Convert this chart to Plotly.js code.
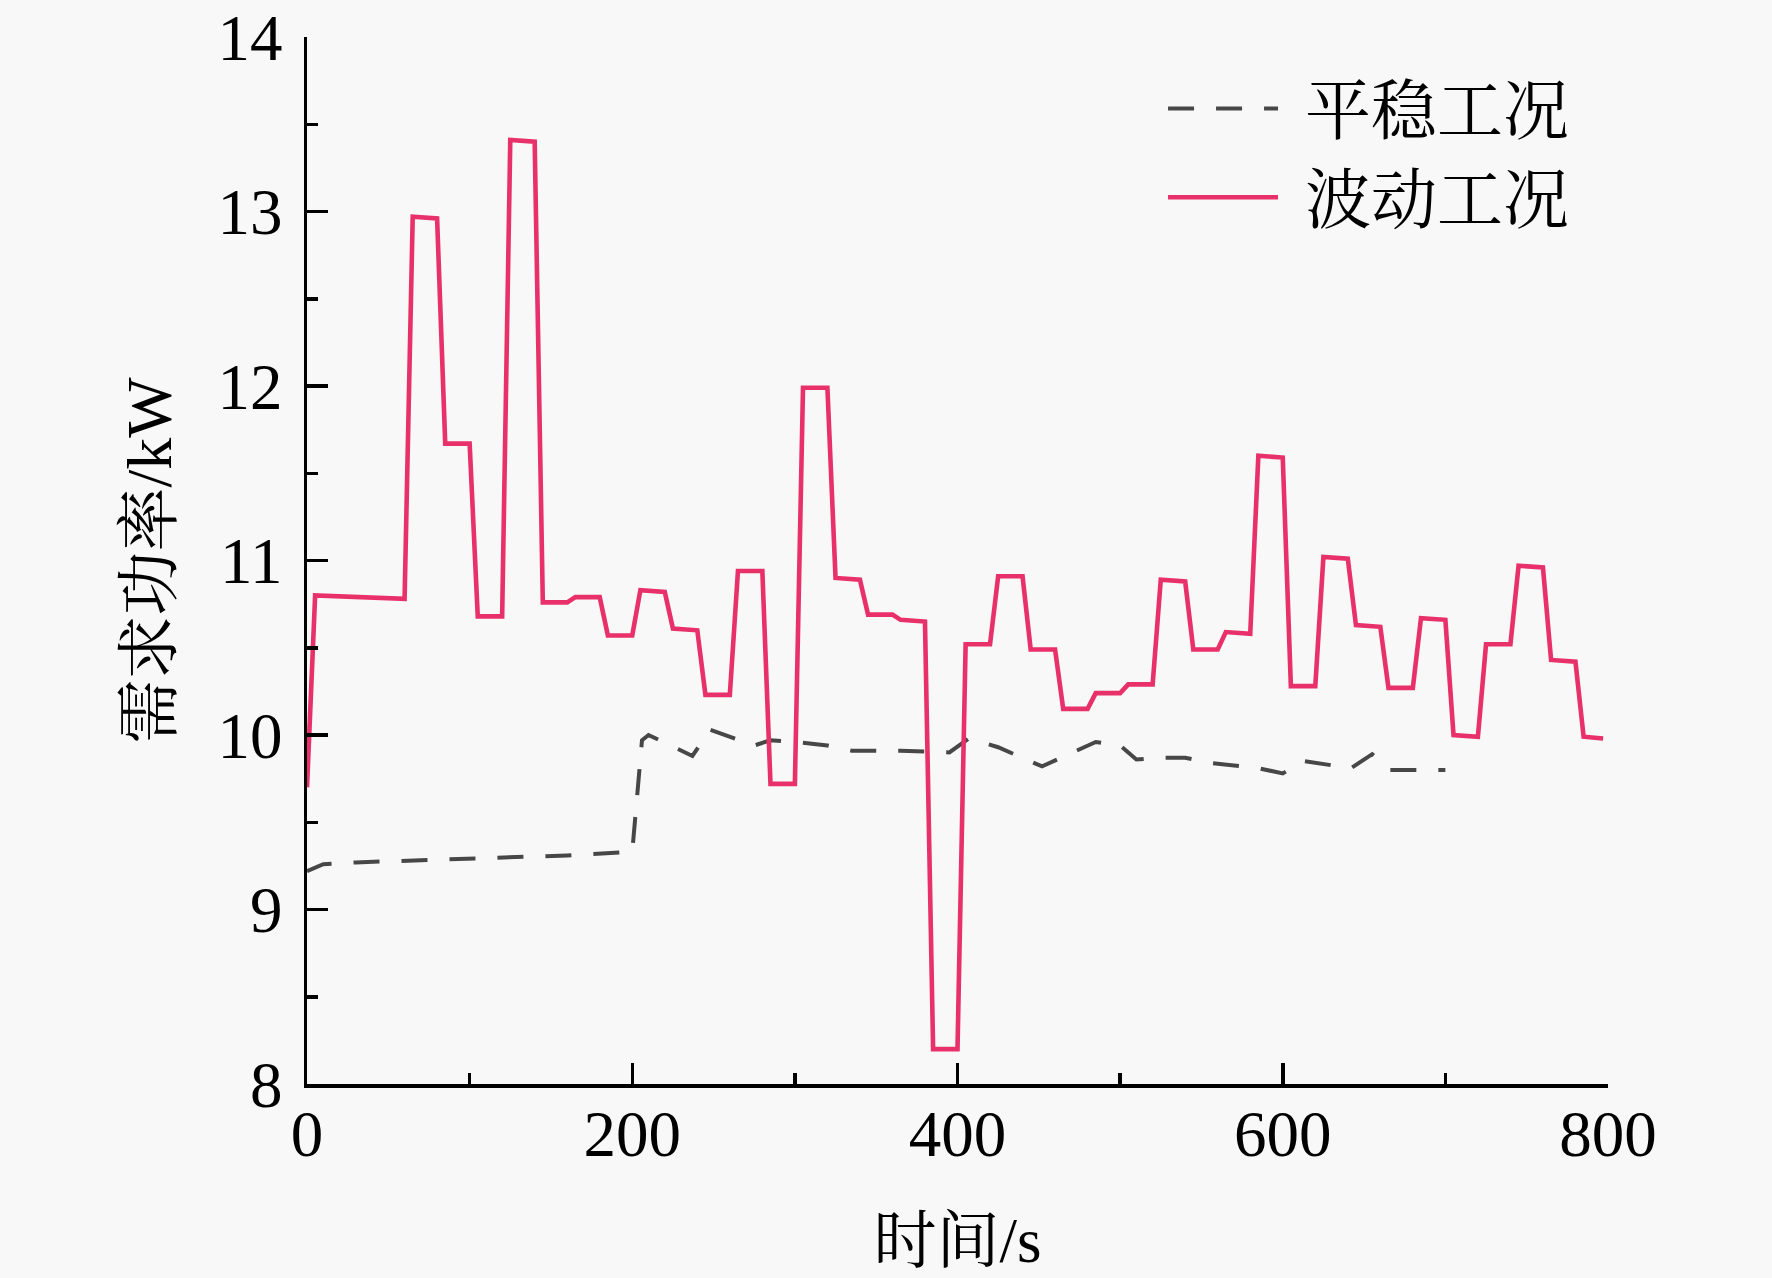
<!DOCTYPE html>
<html>
<head>
<meta charset="utf-8">
<script src="https://cdn.plot.ly/plotly-3.0.1.min.js"></script>
<style>html,body{margin:0;padding:0;background:#f8f8f8;}#chart{width:1772px;height:1278px;}</style>
</head>
<body>
<div id="chart"></div>
<script>
// 平稳工况 (steady condition)
const steadyTime  = [0, 10, 30, 60, 90, 120, 160, 200, 206, 210, 237, 248, 275, 285, 300, 320, 335, 365, 395, 407, 425, 452, 485, 500, 510, 525, 540, 555, 585, 600, 613, 642, 655, 666, 700];
const steadyPower = [9.22, 9.26, 9.27, 9.28, 9.29, 9.30, 9.31, 9.33, 9.97, 10.00, 9.88, 10.03, 9.94, 9.97, 9.96, 9.94, 9.91, 9.91, 9.90, 9.98, 9.93, 9.82, 9.96, 9.94, 9.86, 9.87, 9.87, 9.84, 9.81, 9.78, 9.85, 9.81, 9.89, 9.80, 9.80];

// 波动工况 (fluctuating condition)
const fluctTime  = [0, 5, 60, 65, 80, 85, 100, 105, 120, 125, 140, 145, 160, 165, 180, 185, 200, 205, 220, 225, 240, 245, 260, 265, 280, 285, 300, 305, 320, 325, 340, 345, 360, 365, 380, 385, 400, 405, 420, 425, 440, 445, 460, 465, 480, 485, 500, 505, 520, 525, 540, 545, 560, 565, 580, 585, 600, 605, 620, 625, 640, 645, 660, 665, 680, 685, 700, 705, 720, 725, 740, 745, 760, 765, 780, 785, 797];
const fluctPower = [9.70, 10.80, 10.78, 12.97, 12.96, 11.67, 11.67, 10.68, 10.68, 13.41, 13.40, 10.76, 10.76, 10.79, 10.79, 10.57, 10.57, 10.83, 10.82, 10.61, 10.60, 10.23, 10.23, 10.94, 10.94, 9.72, 9.72, 11.99, 11.99, 10.90, 10.89, 10.69, 10.69, 10.66, 10.65, 8.20, 8.20, 10.52, 10.52, 10.91, 10.91, 10.49, 10.49, 10.15, 10.15, 10.24, 10.24, 10.29, 10.29, 10.89, 10.88, 10.49, 10.49, 10.59, 10.58, 11.60, 11.59, 10.28, 10.28, 11.02, 11.01, 10.63, 10.62, 10.27, 10.27, 10.67, 10.66, 10.00, 9.99, 10.52, 10.52, 10.97, 10.96, 10.43, 10.42, 9.99, 9.98];

const seriesNames = ['平稳工况', '波动工况'];
const xTitle = '时间/s';
const yTitle = '需求功率/kW';

const FONT = "'Liberation Serif', 'Times New Roman', 'Noto Serif CJK SC', 'Noto Sans CJK SC', serif";

const traces = [
  {
    x: steadyTime, y: steadyPower, name: '\u2004' + seriesNames[0],
    mode: 'lines', type: 'scatter',
    line: {color: '#474747', width: 4, dash: '26px,22px'}
  },
  {
    x: fluctTime, y: fluctPower, name: '\u2004' + seriesNames[1],
    mode: 'lines', type: 'scatter',
    line: {color: '#e8306a', width: 4.6}
  }
];

const axisCommon = {
  showgrid: false, zeroline: false, showline: true, linecolor: '#000', linewidth: 3.5,
  ticks: 'inside', ticklen: 21, tickwidth: 3.5, tickcolor: '#000', tickmode: 'linear',
  ticklabeloverflow: 'allow',
  tickfont: {family: FONT, size: 65, color: '#000'}
};

const layout = {
  width: 1772, height: 1278,
  paper_bgcolor: '#f8f8f8', plot_bgcolor: '#f8f8f8',
  margin: {l: 307, r: 164, t: 37, b: 194},
  font: {family: FONT, color: '#000'},
  showlegend: true,
  legend: {
    x: 0.658, y: 0.979, xanchor: 'left', yanchor: 'top',
    bgcolor: 'rgba(0,0,0,0)', font: {family: FONT, size: 66, color: '#000'},
    itemwidth: 110, tracegroupgap: 0
  },
  xaxis: Object.assign({}, axisCommon, {
    range: [0, 800], tick0: 0, dtick: 200,
    minor: {dtick: 100, ticks: 'inside', ticklen: 11, tickwidth: 3.5, tickcolor: '#000'},
    ticklabelstandoff: -10,
    title: {text: xTitle, font: {family: FONT, size: 63, color: '#000'}, standoff: 50}
  }),
  yaxis: Object.assign({}, axisCommon, {
    range: [8, 14], tick0: 8, dtick: 1,
    minor: {dtick: 0.5, ticks: 'inside', ticklen: 11, tickwidth: 3.5, tickcolor: '#000'},
    ticklabelstandoff: 8,
    title: {text: yTitle, font: {family: FONT, size: 64, color: '#000'}, standoff: 26}
  })
};

Plotly.newPlot('chart', traces, layout, {displayModeBar: false, staticPlot: true});
</script>
</body>
</html>
